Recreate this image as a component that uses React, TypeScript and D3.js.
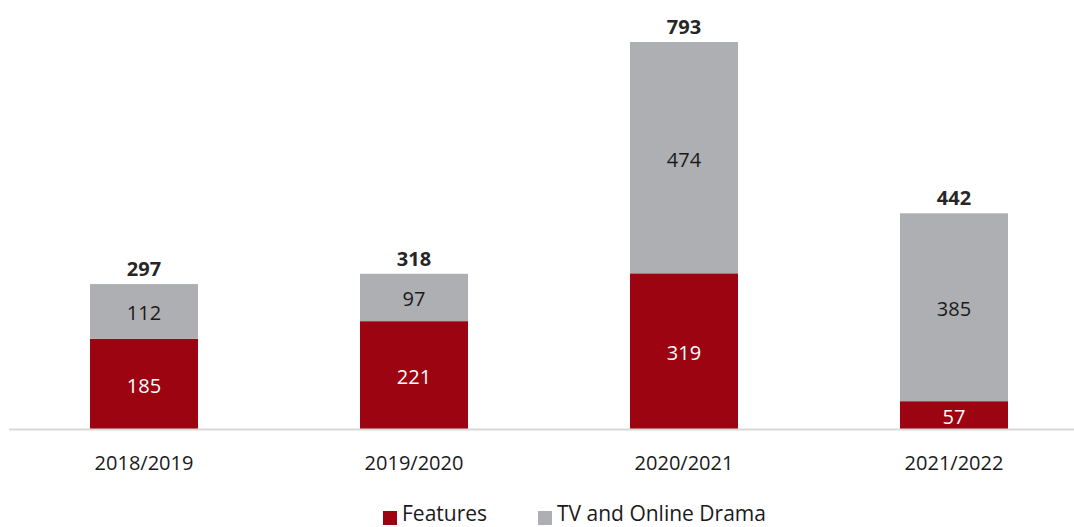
import React from "react";
import * as d3 from "d3";

const categories = ["2018/2019", "2019/2020", "2020/2021", "2021/2022"];
const features = [185, 221, 319, 57];
const tvDrama = [112, 97, 474, 385];
const seriesNames = ["Features", "TV and Online Drama"];

const W = 1074;
const H = 527;
const RED = "#9B0410";
const GREY = "#AEAFB3";
const FONT = "'Open Sans', 'Noto Sans', sans-serif";

export default function App() {
  const x = d3.scaleBand<string>().domain(categories).range([9, 1089]).paddingInner(0.6).paddingOuter(0.3);
  const y = d3.scaleLinear().domain([0, 793]).range([429, 42]);
  const rows = categories.map((c, i) => ({ cat: c, f: features[i], t: tvDrama[i] }));
  const stack = d3.stack<any>().keys(["f", "t"])(rows);
  const colors = [RED, GREY];
  const textColors = ["#FFFFFF", "#1a1a1a"];
  const bw = x.bandwidth();

  return (
    <svg width={W} height={H} style={{ position: "absolute", left: 0, top: 0, fontFamily: FONT }}>
      {stack.map((layer, li) =>
        layer.map((d, i) => {
          const x0 = x(categories[i])!;
          const y0 = y(d[1]);
          const h = y(d[0]) - y(d[1]);
          return (
            <g key={`${li}-${i}`}>
              <rect x={x0} y={y0} width={bw} height={h} fill={colors[li]} />
              <text
                x={x0 + bw / 2}
                y={y0 + h / 2 + 2}
                dy="0.35em"
                textAnchor="middle"
                fontSize={20}
                fill={textColors[li]}
              >
                {d[1] - d[0]}
              </text>
            </g>
          );
        })
      )}
      <line x1={9} x2={1074} y1={429.5} y2={429.5} stroke="#D9D9D9" strokeWidth={2} />
      {rows.map((r, i) => (
        <text
          key={`tot-${i}`}
          x={x(r.cat)! + bw / 2}
          y={y(r.f + r.t) - 8}
          textAnchor="middle"
          fontSize={20}
          fontWeight="bold"
          fill="#262626"
        >
          {r.f + r.t}
        </text>
      ))}
      {categories.map((c) => (
        <text key={c} x={x(c)! + bw / 2} y={470} textAnchor="middle" fontSize={20} fill="#1a1a1a">
          {c}
        </text>
      ))}
      <g>
        <rect x={383} y={511} width={14} height={14} fill={RED} />
        <text x={402} y={521} fontSize={21} fill="#1a1a1a">{seriesNames[0]}</text>
        <rect x={538} y={511} width={14} height={14} fill={GREY} />
        <text x={557} y={521} fontSize={21} fill="#1a1a1a">{seriesNames[1]}</text>
      </g>
    </svg>
  );
}
